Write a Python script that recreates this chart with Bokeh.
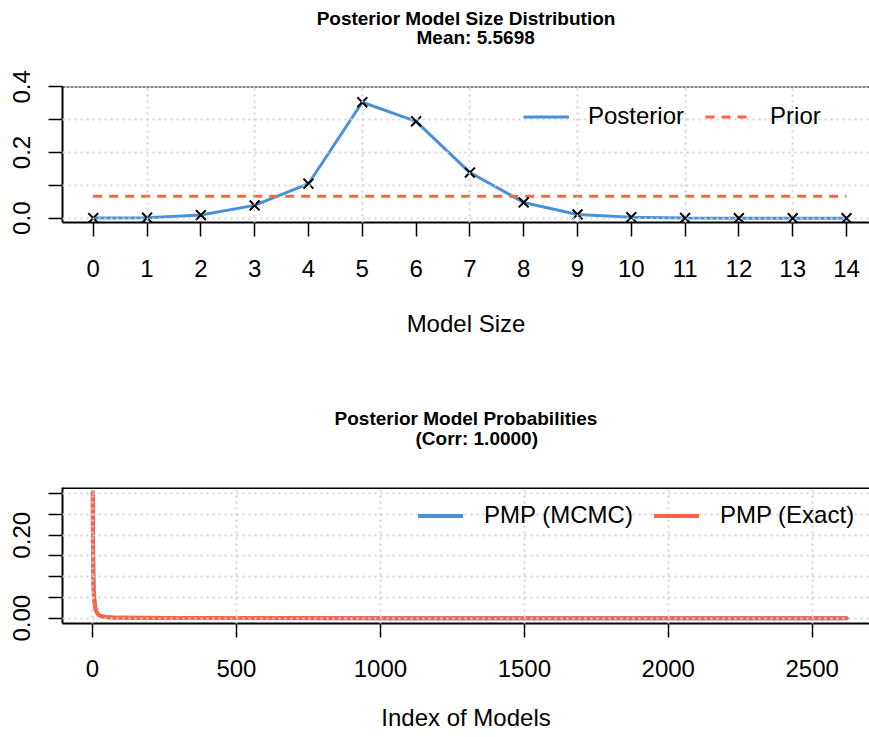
from bokeh.plotting import figure
from bokeh.layouts import column
from bokeh.models import (FixedTicker, PrintfTickFormatter, Span, Legend,
                          LegendItem, Range1d, Title)
from bokeh.embed import file_html
from bokeh.resources import INLINE

FONT = "Liberation Sans"
BLUE = "#4A90D9"
RED = "#FF6347"
GRID = "#D3D3D3"

# ---------------- data: posterior model size distribution ----------------
model_size = [0, 1, 2, 3, 4, 5, 6, 7, 8, 9, 10, 11, 12, 13, 14]
posterior_prob = [0.0003, 0.0015, 0.0095, 0.039, 0.105, 0.353, 0.295, 0.139,
                  0.048, 0.0115, 0.003, 0.0008, 0.0002, 0.00005, 0.00001]
prior_prob = [0.0667, 0.0667, 0.0667, 0.0667, 0.0667, 0.0667, 0.0667, 0.0667,
              0.0667, 0.0667, 0.0667, 0.0667, 0.0667, 0.0667, 0.0667]
size_xticks = [0, 1, 2, 3, 4, 5, 6, 7, 8, 9, 10, 11, 12, 13, 14]
size_xgrid = [1, 3, 5, 7, 9, 11, 13]
size_yticks = [0.0, 0.2, 0.4]
size_yminor = [0.1, 0.3]
size_ygrid = [0.0, 0.1, 0.2, 0.3]
size_title = "Posterior Model Size Distribution"
size_subtitle = "Mean: 5.5698"
size_xlabel = "Model Size"

# ---------------- data: posterior model probabilities ----------------
model_index = [1, 2, 3, 4, 6, 8, 10, 14, 20, 30, 45, 70, 120, 250, 500,
               1000, 2000, 2620]
pmp_mcmc = [0.304, 0.16, 0.10, 0.07, 0.045, 0.032, 0.024, 0.015, 0.009,
            0.005, 0.003, 0.0015, 0.0008, 0.0004, 0.0002, 0.0001, 0.00003,
            0.00001]
pmp_exact = [0.304, 0.16, 0.10, 0.07, 0.045, 0.032, 0.024, 0.015, 0.009,
             0.005, 0.003, 0.0015, 0.0008, 0.0004, 0.0002, 0.0001, 0.00003,
             0.00001]
index_xticks = [0, 500, 1000, 1500, 2000, 2500]
pmp_yticks = [0.0, 0.2]
pmp_yminor = [0.05, 0.10, 0.15, 0.25, 0.30]
pmp_ygrid = [0.0, 0.05, 0.10, 0.15, 0.20, 0.25, 0.30]
pmp_title = "Posterior Model Probabilities"
pmp_subtitle = "(Corr: 1.0000)"
pmp_xlabel = "Index of Models"


def style(p, xticks, xgrid, yticks, yminor, ygrid, yfmt, xlabel,
          tick_standoff, label_standoff):
    p.outline_line_color = None
    p.background_fill_color = "white"
    p.border_fill_color = "white"
    p.xaxis.ticker = FixedTicker(ticks=xticks)
    p.yaxis.ticker = FixedTicker(ticks=yticks, minor_ticks=yminor)
    p.yaxis.formatter = PrintfTickFormatter(format=yfmt)
    for ax in (p.xaxis[0], p.yaxis[0]):
        ax.axis_line_width = 2
        ax.axis_line_color = "black"
        ax.major_tick_line_width = 1.5
        ax.major_tick_line_color = "black"
        ax.major_tick_out = 14
        ax.major_tick_in = 0
        ax.minor_tick_line_width = 1.5
        ax.minor_tick_line_color = "black"
        ax.minor_tick_out = 14
        ax.minor_tick_in = 0
        ax.major_label_text_font = FONT
        ax.major_label_text_font_size = "24px"
        ax.major_label_text_color = "black"
    p.xaxis.major_label_standoff = tick_standoff
    p.xaxis.axis_label = xlabel
    p.xaxis.axis_label_standoff = label_standoff
    p.xaxis.axis_label_text_font = FONT
    p.xaxis.axis_label_text_font_size = "24px"
    p.xaxis.axis_label_text_font_style = "normal"
    p.xaxis.axis_label_text_color = "black"
    p.yaxis.major_label_orientation = "vertical"
    p.yaxis.major_label_standoff = 18
    p.xgrid.ticker = FixedTicker(ticks=xgrid)
    p.ygrid.ticker = FixedTicker(ticks=ygrid)
    for g in (p.xgrid[0], p.ygrid[0]):
        g.grid_line_color = GRID
        g.grid_line_dash = "2 4"
        g.grid_line_width = 2
        g.level = "guide"


def titles(p, main, sub, sub_offset, spacer_standoff, main_standoff):
    # stacking (frame outward): spacer, subtitle, plot title
    p.add_layout(Title(text=" ", align="center", standoff=spacer_standoff,
                       text_font=FONT, text_font_size="19px"), "above")
    p.add_layout(Title(text=sub, align="left", offset=sub_offset, standoff=0,
                       text_font=FONT, text_font_size="19px",
                       text_font_style="bold", text_color="black"), "above")
    p.title.text = main
    p.title.align = "center"
    p.title.standoff = main_standoff
    p.title.text_font = FONT
    p.title.text_font_size = "19px"
    p.title.text_font_style = "bold"
    p.title.text_color = "black"


# ---------------- top figure ----------------
p1 = figure(width=869, height=368, output_backend="svg", toolbar_location=None,
            x_range=Range1d(-0.571, 14.427), y_range=Range1d(-0.0131, 0.401),
            min_border_left=62, min_border_right=0, min_border_top=86,
            min_border_bottom=146)
style(p1, size_xticks, size_xgrid, size_yticks, size_yminor, size_ygrid,
      "%.1f", size_xlabel, 23, 30)

r_post = p1.line(model_size, posterior_prob, line_color=BLUE, line_width=3)
r_prior = p1.line(model_size, prior_prob, line_color=RED, line_width=3,
                  line_dash="9 7")
p1.scatter(model_size, posterior_prob, marker="x", size=14,
           line_color="black", line_width=2)
p1.add_layout(Span(location=0.4, dimension="width", line_color="black",
                   line_dash="3 1", line_width=1.5))

leg1 = Legend(items=[LegendItem(label="Posterior", renderers=[r_post]),
                     LegendItem(label="Prior", renderers=[r_prior])],
              location=(461, 92), orientation="horizontal", padding=0,
              margin=0, spacing=21, glyph_width=46, glyph_height=27,
              label_height=27, label_standoff=19,
              label_text_font=FONT, label_text_font_size="24px",
              label_text_color="black", border_line_alpha=0,
              background_fill_alpha=0)
p1.add_layout(leg1)
titles(p1, size_title, size_subtitle, 354, 16, -8)

# ---------------- bottom figure ----------------
p2 = figure(width=869, height=369, output_backend="svg", toolbar_location=None,
            x_range=Range1d(-104.2, 2699.0), y_range=Range1d(-0.0128, 0.3152),
            min_border_left=62, min_border_right=0, min_border_top=119,
            min_border_bottom=114)
style(p2, index_xticks, index_xticks, pmp_yticks, pmp_yminor, pmp_ygrid,
      "%.2f", pmp_xlabel, 22, 24)

r_mcmc = p2.line(model_index, pmp_mcmc, line_color=BLUE, line_width=4,
                 line_join="round", line_cap="round")
r_exact = p2.line(model_index, pmp_exact, line_color=RED, line_width=4,
                  line_join="round", line_cap="round")
p2.add_layout(Span(location=0.3140, dimension="width", line_color="black",
                   line_width=2))

leg2 = Legend(items=[LegendItem(label="PMP (MCMC)", renderers=[r_mcmc]),
                     LegendItem(label="PMP (Exact)", renderers=[r_exact])],
              location=(356, 94), orientation="horizontal", padding=0,
              margin=0, spacing=21, glyph_width=45, glyph_height=27,
              label_height=27, label_standoff=21,
              label_text_font=FONT, label_text_font_size="24px",
              label_text_color="black", border_line_alpha=0,
              background_fill_alpha=0)
p2.add_layout(leg2)
titles(p2, pmp_title, pmp_subtitle, 353, 15.5, -6)

layout = column(p1, p2, spacing=0)
open("out.html", "w").write(file_html(layout, INLINE))
